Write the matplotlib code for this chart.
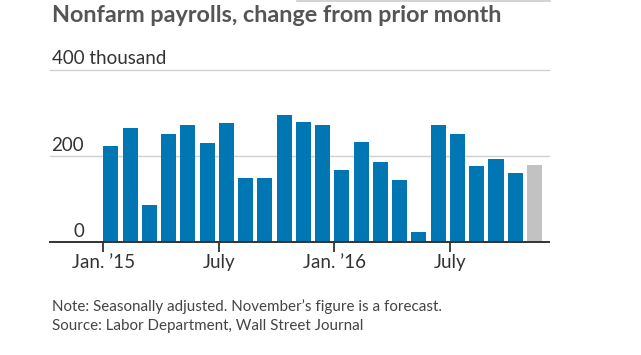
import matplotlib
matplotlib.use('Agg')
import matplotlib.pyplot as plt
import numpy as np

# monthly change in nonfarm payrolls, Jan 2015 - Nov 2016 (thousands)
months = ['2015-01', '2015-02', '2015-03', '2015-04', '2015-05', '2015-06',
          '2015-07', '2015-08', '2015-09', '2015-10', '2015-11', '2015-12',
          '2016-01', '2016-02', '2016-03', '2016-04', '2016-05', '2016-06',
          '2016-07', '2016-08', '2016-09', '2016-10', '2016-11']
payrolls = [221, 264, 84, 249, 270, 228, 276, 148, 148, 294, 279, 270,
            167, 231, 185, 142, 23, 270, 251, 176, 191, 160, 178]
forecast = [False] * 22 + [True]

tick_pos = [0, 6, 12, 18]
tick_labels = ['Jan. \u201915', 'July', 'Jan. \u201916', 'July']
y_ticks = [0, 200, 400]
y_labels = ['0', '200', '400 thousand']

blue = '#0077b3'
grey = '#c2c2c2'
txt = '#333333'

plt.rcParams['font.family'] = ['Lato', 'DejaVu Sans']

W, H = 641, 355
fig = plt.figure(figsize=(W / 100, H / 100), dpi=100)

# axes box in pixels: x 50..549, y 69.5 (400) .. 241.5 (0)
ax = fig.add_axes([50 / W, (H - 241.5) / H, 499 / W, 172 / H])

x = np.arange(len(payrolls))
colors = [grey if f else blue for f in forecast]
ax.bar(x, payrolls, width=0.78, align='edge', color=colors, zorder=2)

pitch = 19.26
x0 = 103.3
ax.set_xlim((50 - x0) / pitch, (549 - x0) / pitch)
ax.set_ylim(0, 400)

for s in ax.spines.values():
    s.set_visible(False)
ax.set_yticks([])

# gridlines
for v in y_ticks[1:]:
    ax.axhline(v, color='#d0d0d0', lw=1.0, zorder=1, clip_on=False)
ax.axhline(0, color=txt, lw=1.4, zorder=3, clip_on=False)

ax.set_xticks(tick_pos)
ax.set_xticklabels(tick_labels, fontsize=13.5, color=txt)
ax.tick_params(axis='x', length=7, width=1.3, color=txt, pad=2)

# y labels sit above the gridlines
lab_right = (84 - x0) / pitch
lab_left = (51.5 - x0) / pitch
for v, lab in zip(y_ticks, y_labels):
    if v == 400:
        ax.text(lab_left, v + 12, lab, ha='left', va='baseline',
                fontsize=13.5, color=txt, clip_on=False)
    else:
        ax.text(lab_right, v + 10, lab, ha='right', va='baseline',
                fontsize=13.5, color=txt, clip_on=False)

# thin rule at the very top
fig.add_artist(plt.Line2D([297 / W, 550 / W], [1 - 0.8 / H, 1 - 0.8 / H],
                          color='#cccccc', lw=1.2))

fig.text(51.5 / W, 1 - 22 / H, 'Nonfarm payrolls, change from prior month',
         fontsize=16.8, fontweight='bold', color='#555555', ha='left',
         va='baseline')
fig.text(51.5 / W, 1 - 311 / H,
         'Note: Seasonally adjusted. November\u2019s figure is a forecast.',
         fontsize=10.9, color='#444444', ha='left', va='baseline')
fig.text(51.5 / W, 1 - 330 / H,
         'Source: Labor Department, Wall Street Journal',
         fontsize=10.9, color='#444444', ha='left', va='baseline')

fig.savefig('out.png', dpi=100)
